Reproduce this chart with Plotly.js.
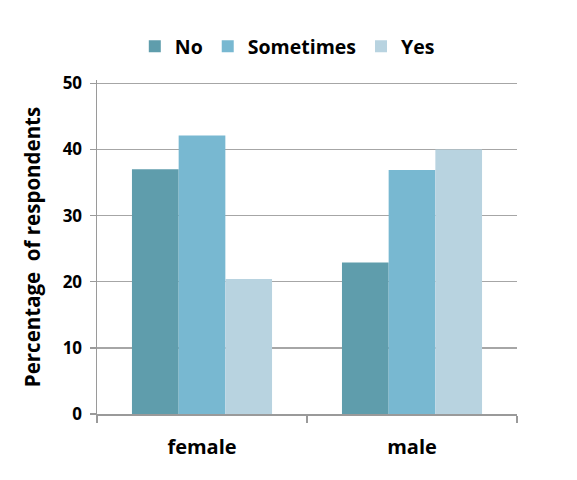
<!DOCTYPE html>
<html><head><meta charset="utf-8">
<script src="https://cdn.plot.ly/plotly-3.0.1.min.js"></script>
<style>html,body{margin:0;padding:0;background:#fff;}#chart{width:577px;height:480px;}</style>
</head><body><div id="chart"></div>
<script>
const categories = ["female", "male"];
const seriesNames = ["No", "Sometimes", "Yes"];
const noValues = [37.0, 22.9];
const sometimesValues = [42.1, 36.9];
const yesValues = [20.4, 40.0];
const yTickValues = [0, 10, 20, 30, 40, 50];

const colors = ["#5f9dac", "#78b8d1", "#b8d3e0"];
const values = [noValues, sometimesValues, yesValues];
const font = "'Open Sans', Lato, sans-serif";

const data = seriesNames.map((name, i) => ({
  type: "bar",
  name: name,
  x: categories,
  y: values[i],
  marker: {color: colors[i], line: {width: 0}},
  hoverinfo: "none"
}));

const layout = {
  width: 577, height: 480,
  margin: {l: 97, r: 60, t: 80, b: 66, autoexpand: false},
  paper_bgcolor: "#fff", plot_bgcolor: "#fff",
  font: {family: font, color: "#000", size: 16},
  barmode: "group",
  bargap: 0.333,
  bargroupgap: 0,
  showlegend: true,
  legend: {
    orientation: "h", x: 0.09, xanchor: "left", y: 1.1, yanchor: "middle",
    font: {family: font, size: 19.5, color: "#000", weight: "bold"},
    traceorder: "normal", itemwidth: 30
  },
  xaxis: {
    type: "category",
    showline: true, linecolor: "#9a9a9a", linewidth: 1.5,
    ticks: "outside", tickson: "boundaries", ticklen: 7, tickcolor: "#9a9a9a", tickwidth: 1.5,
    ticklabelstandoff: 14,
    tickfont: {family: font, size: 20, color: "#000", weight: "bold"},
    showgrid: false, zeroline: false, fixedrange: true
  },
  yaxis: {
    range: [0, 50.5], tickvals: yTickValues,
    showline: true, linecolor: "#9a9a9a", linewidth: 1.5,
    ticks: "outside", ticklen: 6, tickcolor: "#9a9a9a", tickwidth: 1.5,
    showgrid: true, gridcolor: "#a6a6a6", gridwidth: 1.5,
    zeroline: false,
    ticklabelstandoff: 4,
    tickfont: {family: font, size: 17, color: "#000", weight: "bold"},
    title: {text: "Percentage\u00a0 of respondents", font: {family: font, size: 20.5, color: "#000", weight: "bold"}, standoff: 16},
    fixedrange: true
  }
};

Plotly.newPlot("chart", data, layout, {displayModeBar: false, staticPlot: true});
</script></body></html>
